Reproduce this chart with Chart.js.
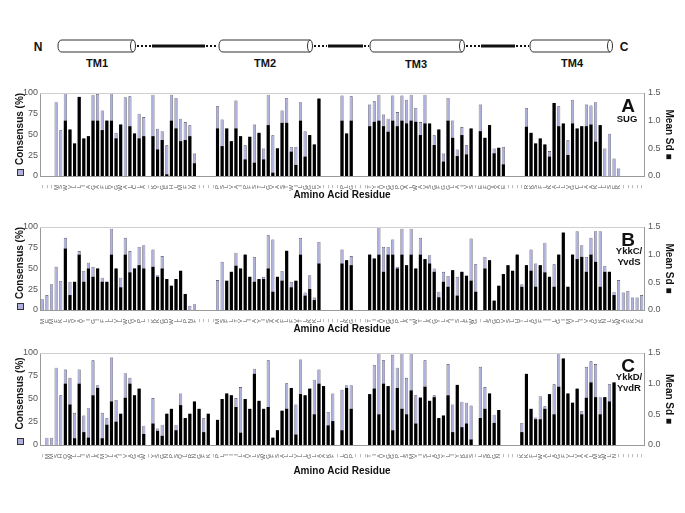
<!DOCTYPE html>
<html><head><meta charset="utf-8">
<script src="https://cdn.jsdelivr.net/npm/chart.js@4.4.0/dist/chart.umd.min.js"></script>
<style>
html,body{margin:0;padding:0;background:#fff;}
#wrap{position:relative;width:685px;height:513px;overflow:hidden;font-family:'Liberation Sans',Arial,sans-serif;background:#fff;}
canvas{position:absolute;left:0;}
.lbl{position:absolute;text-align:center;font-weight:bold;color:#111;width:50px;}
.big{font-size:19px;line-height:19px;}
.small{font-size:9.5px;line-height:10.5px;}
svg{position:absolute;left:0;top:0;}
</style></head><body>
<div id="wrap">
<svg width="685" height="80" font-family="Liberation Sans, Arial, sans-serif" font-weight="bold">
  <text x="38" y="51" font-size="12" text-anchor="middle" fill="#111">N</text>
  <g stroke="#333" stroke-width="1" fill="#fff">
    <path d="M62,40 L133,40 L133,52 L62,52 Q58,52 58,46 Q58,40 62,40 Z"/>
    <ellipse cx="133" cy="46" rx="2.5" ry="6"/>
    <path d="M223,40 L310,40 L310,52 L223,52 Q219,52 219,46 Q219,40 223,40 Z"/>
    <ellipse cx="310" cy="46" rx="2.5" ry="6"/>
    <path d="M374,40 L462,40 L462,52 L374,52 Q370,52 370,46 Q370,40 374,40 Z"/>
    <ellipse cx="462" cy="46" rx="2.5" ry="6"/>
    <path d="M534,40 L610,40 L610,52 L534,52 Q530,52 530,46 Q530,40 534,40 Z"/>
    <ellipse cx="610" cy="46" rx="2.5" ry="6"/>
  </g>
  <g stroke="#111" fill="none">
    <line x1="137" y1="46" x2="151" y2="46" stroke-width="2" stroke-dasharray="2,2"/>
    <line x1="152" y1="46" x2="205" y2="46" stroke-width="3"/>
    <line x1="206" y1="46" x2="218" y2="46" stroke-width="2" stroke-dasharray="2,2"/>
    <line x1="314" y1="46" x2="327" y2="46" stroke-width="2" stroke-dasharray="2,2"/>
    <line x1="328" y1="46" x2="363" y2="46" stroke-width="3"/>
    <line x1="364" y1="46" x2="369" y2="46" stroke-width="2" stroke-dasharray="2,2"/>
    <line x1="466" y1="46" x2="480" y2="46" stroke-width="2" stroke-dasharray="2,2"/>
    <line x1="481" y1="46" x2="515" y2="46" stroke-width="3"/>
    <line x1="516" y1="46" x2="529" y2="46" stroke-width="2" stroke-dasharray="2,2"/>
  </g>
  <text x="97" y="67" font-size="11" text-anchor="middle" fill="#111">TM1</text>
  <text x="265" y="67" font-size="11" text-anchor="middle" fill="#111">TM2</text>
  <text x="416" y="68" font-size="11" text-anchor="middle" fill="#111">TM3</text>
  <text x="572" y="67" font-size="11" text-anchor="middle" fill="#111">TM4</text>
  <text x="624" y="51" font-size="12" text-anchor="middle" fill="#111">C</text>
</svg>
<canvas id="cA" width="685" height="125" style="top:80px"></canvas>
<canvas id="cB" width="685" height="125" style="top:214px"></canvas>
<canvas id="cC" width="685" height="141" style="top:340px"></canvas>
<div class="lbl big" style="left:603px;top:96px">A</div>
<div class="lbl small" style="left:602px;top:114px">SUG</div>
<div class="lbl big" style="left:603px;top:230px">B</div>
<div class="lbl small" style="left:604px;top:246px">YkkC/<br>YvdS</div>
<div class="lbl big" style="left:603px;top:356px">C</div>
<div class="lbl small" style="left:604px;top:372px">YkkD/<br>YvdR</div>
</div>
<script>
// ---------- data ----------
const residuesA = "---MSWVLLIAGAFEVGWALCLA-KYGEHLMFVN----PSLVAIPFSTLGVASTWILGGEV----PLG---TYAVGGPQALWAVSGFGGLAIVS-EFQAAE----RKSFLKALLVGCLAAKLLSEK-----";
const residuesB = "MEMFKLSVAYIGIFLLVLWGVPL-KKGDWLLPNF----MSFLTVLIAYISAAFLFVTLKKL----LKG---TIAVGGPLAIWTLAGYLAISLFWG-LSGDVSLHTLAGFIILGIMVLIVAGKNLKWAFKVE";
const residuesC = "-MMSHQWLLISLAMVLAIVAGAW-YSGNPSQLRNGFK-PLIIILAVLSWGFSALLVLLGLAAKF-LDP---TIAVGGPLSMVISLAGYLIYKES-LSPGN----KKFLWALAGFVLVAALMKWLN------";

const consensusA = [null,null,null,89,55,100,56,39,95,45,
 48,98,99,79,67,100,52,62,95,96,
 51,75,71,null,98,57,54,37,98,94,
 69,65,61,27,null,null,null,null,84,68,
 57,42,91,48,37,47,62,52,33,98,
 49,33,79,94,35,35,89,54,49,38,
 93,null,null,null,null,97,51,96,null,null,
 null,86,90,98,74,69,97,77,97,92,
 98,82,65,98,63,49,56,27,94,67,
 32,59,37,57,null,86,46,61,33,34,
 35,null,null,null,null,82,52,39,45,38,
 30,88,84,63,43,92,57,60,86,85,
 89,61,33,51,21,9,null,null,null,null,
 null];
const meanSdA = [null,null,null,null,null,1.0,0.84,0.59,1.43,0.68,
 0.72,1.0,1.0,0.83,1.0,1.0,0.68,0.93,null,0.9,
 0.77,0.68,0.72,null,0.72,0.48,0.65,0.03,1.0,0.86,
 0.63,0.65,0.72,0.23,null,null,null,null,0.86,0.54,
 0.86,0.63,0.86,0.72,0.3,0.71,0.24,0.78,0.3,0.92,
 0.06,0.5,0.96,0.96,0.44,0.2,1.0,0.35,0.74,0.57,
 1.4,null,null,null,null,1.0,0.77,1.0,null,null,
 null,0.9,0.98,1.0,0.9,0.8,1.0,0.9,1.0,0.95,
 1.0,0.98,0.74,0.95,0.95,0.56,0.84,0.26,1.0,0.69,
 0.36,0.74,0.39,0.86,null,0.81,0.69,0.92,0.41,0.51,
 0.21,null,null,null,null,0.89,0.78,0.59,0.68,0.57,
 0.35,1.32,0.9,0.95,0.38,0.95,0.86,0.9,0.9,0.93,
 0.62,0.92,null,null,null,null,null,null,null,null,
 null];

const consensusB = [13,18,31,52,35,87,34,34,71,47,
 57,52,50,39,34,98,50,39,87,71,
 50,76,78,null,73,42,65,37,29,37,
 47,19,5,7,null,null,null,null,36,58,
 35,46,69,50,67,40,64,37,40,90,
 85,40,47,71,34,35,87,21,42,15,
 82,null,null,null,null,73,60,65,null,null,
 null,67,62,100,76,76,85,52,98,54,
 98,50,87,61,66,50,22,46,41,48,
 40,46,41,86,55,null,64,60,11,29,
 43,54,47,67,31,54,73,56,54,81,
 40,55,67,93,28,67,95,78,64,87,
 95,95,53,46,22,36,21,23,15,15,
 18];
const meanSdB = [null,null,null,null,null,1.11,0.27,0.51,1.0,0.51,
 0.75,0.6,0.75,0.51,0.51,1.0,0.75,0.41,1.0,0.68,
 0.75,0.81,0.75,null,0.78,0.6,0.75,0.56,0.44,0.56,
 0.71,0.29,null,null,null,null,null,null,null,null,
 0.53,0.69,0.8,0.75,1.0,0.6,0.51,0.56,0.56,0.75,
 0.33,0.6,0.53,1.07,0.41,0.53,1.0,0.26,0.38,0.18,
 0.84,null,null,null,null,0.84,0.9,0.81,null,null,
 null,1.0,0.93,1.0,0.69,1.0,1.0,0.75,1.0,0.81,
 1.0,0.75,1.0,0.92,0.84,0.69,0.23,0.51,0.42,0.72,
 0.26,0.69,0.62,0.53,0.33,null,0.75,0.9,0.17,0.44,
 0.65,0.81,0.71,1.0,0.42,0.81,0.71,0.42,0.81,0.68,
 0.6,0.42,1.0,1.4,0.42,1.0,0.92,0.96,0.69,1.0,
 0.87,0.42,0.69,0.69,0.27,null,null,null,null,null,
 null];

const consensusC = [null,8,8,84,54,82,73,35,82,32,
 40,92,65,35,29,95,49,34,78,73,
 54,61,21,null,51,18,22,34,39,22,
 56,29,34,47,39,29,34,null,27,50,
 56,54,51,63,50,39,83,48,39,92,
 8,16,37,67,62,44,93,54,61,71,
 82,64,36,56,null,60,65,65,null,null,
 null,55,87,100,92,64,98,84,100,73,
 100,54,52,92,48,54,29,32,88,44,
 65,47,46,43,null,85,63,56,33,38,
 null,null,null,null,24,77,39,30,53,42,
 55,66,100,94,56,46,61,37,85,91,
 88,52,52,66,68,null,null,null,null,null,
 null];
const meanSdC = [null,null,null,null,null,1.0,0.66,0.11,1.0,0.21,
 0.12,0.81,0.93,0.11,0.33,0.71,0.38,0.51,0.77,1.0,
 0.81,0.92,0.18,null,0.35,0.23,0.15,0.51,0.59,0.24,
 0.65,0.44,0.51,0.71,0.59,0.21,0.51,null,0.41,0.75,
 0.84,0.81,0.62,0.2,0.75,0.59,1.16,0.72,0.59,0.62,
 0.12,0.24,0.56,0.59,0.93,0.17,0.83,0.81,0.92,0.5,
 1.0,0.96,0.32,0.39,null,0.24,0.93,0.59,null,null,
 null,0.83,0.92,0.5,1.0,0.96,0.24,0.93,0.59,0.5,
 0.89,0.35,0.77,0.95,0.72,0.78,0.44,0.48,0.81,0.21,
 0.98,0.29,0.35,0.09,null,0.44,0.59,0.84,0.36,0.57,
 null,null,null,null,0.21,1.16,0.59,0.42,0.42,0.59,
 0.83,0.5,0.95,1.41,0.84,0.69,0.92,0.5,0.77,1.02,
 0.78,0.5,0.78,0.71,1.02,null,null,null,null,null,
 null];

const leftTicks = [0,25,50,75,100];
const rightTicks = [0.0,0.5,1.0,1.5];

// ---------- drawing ----------
const LAV = '#b0b0df';
const FONT = "'Liberation Sans', Arial, sans-serif";

const framePlugin = {
  id: 'frame',
  afterDraw(chart) {
    const {ctx, chartArea: a} = chart;
    ctx.save();
    ctx.strokeStyle = '#cfcfcf';
    ctx.lineWidth = 1;
    ctx.beginPath();
    ctx.moveTo(a.left, a.top + 0.5);
    ctx.lineTo(a.right, a.top + 0.5);
    ctx.stroke();
    ctx.fillStyle = LAV;
    ctx.fillRect(18, a.bottom - 6, 5, 5);
    ctx.strokeStyle = '#333';
    ctx.strokeRect(17.5, a.bottom - 6.5, 6, 6);
    ctx.restore();
  }
};

function makeChart(id, residues, cons, sd, xHeight) {
  const labels = residues.split('').map(c => c === '-' ? '\u2013' : c);
  return new Chart(document.getElementById(id), {
    type: 'bar',
    data: {
      labels,
      datasets: [
        { label: 'Mean Sd', data: sd, yAxisID: 'y2', backgroundColor: '#000',
          borderWidth: 0, grouped: false, order: 1,
          barPercentage: 0.68, categoryPercentage: 1 },
        { label: 'Consensus (%)', data: cons, yAxisID: 'y', backgroundColor: LAV,
          borderColor: '#3a3a4a', borderWidth: 0.6, grouped: false, order: 2,
          barPercentage: 0.68, categoryPercentage: 1 }
      ]
    },
    options: {
      responsive: false, animation: false, devicePixelRatio: 1,
      layout: { padding: { top: 13, left: 0, right: 0, bottom: 0 } },
      plugins: { legend: { display: false }, tooltip: { enabled: false } },
      scales: {
        x: {
          offset: true,
          grid: { display: false },
          border: { display: true, color: '#9a9a9a' },
          ticks: { autoSkip: false, maxRotation: 90, minRotation: 90, padding: 1,
                   color: '#555', font: { size: 6, family: FONT } },
          title: { display: true, text: 'Amino Acid Residue', color: '#111',
                   font: { size: 10, weight: 'bold', family: FONT }, padding: { top: 0, bottom: 4 } },
          afterFit(s) { s.height = xHeight; }
        },
        y: {
          position: 'left', min: 0, max: 100,
          grid: { display: false, drawTicks: false },
          border: { display: true, color: '#9a9a9a' },
          afterBuildTicks(s) { s.ticks = leftTicks.map(v => ({ value: v })); },
          ticks: { padding: 2, color: '#555', font: { size: 9, family: FONT } },
          title: { display: true, text: '    Consensus (%)', color: '#111',
                   font: { size: 10, weight: 'bold', family: FONT }, padding: { top: 14, bottom: 0 } },
          afterFit(s) { s.width = 40; }
        },
        y2: {
          position: 'right', min: 0, max: 1.5,
          grid: { display: false, drawTicks: false },
          border: { display: true, color: '#9a9a9a' },
          afterBuildTicks(s) { s.ticks = rightTicks.map(v => ({ value: v })); },
          ticks: { padding: 4, color: '#555', font: { size: 9, family: FONT },
                   callback: v => Number(v).toFixed(1) },
          title: { display: true, text: 'Mean Sd \u25A0', color: '#111',
                   font: { size: 10, weight: 'bold', family: FONT }, padding: { top: 10, bottom: 0 } },
          afterFit(s) { s.width = 41; }
        }
      }
    },
    plugins: [framePlugin]
  });
}

makeChart('cA', residuesA, consensusA, meanSdA, 29);
makeChart('cB', residuesB, consensusB, meanSdB, 29);
makeChart('cC', residuesC, consensusC, meanSdC, 36);
</script>
</body></html>
